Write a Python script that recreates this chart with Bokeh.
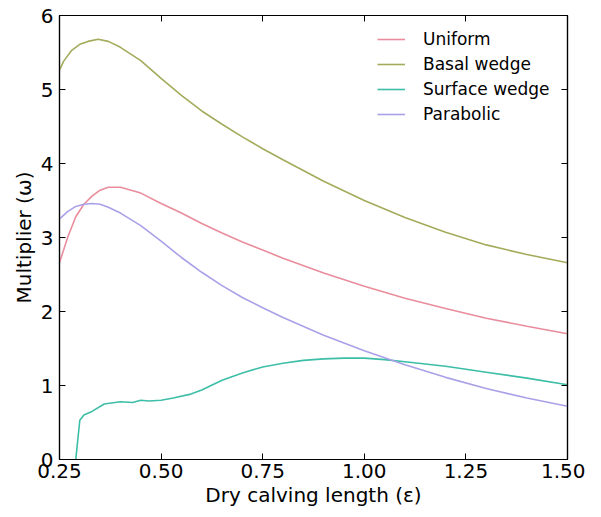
from bokeh.plotting import figure
from bokeh.models import LinearAxis, Range1d, FixedTicker, Legend, LegendItem, CustomJSTickFormatter
from bokeh.embed import file_html
from bokeh.resources import INLINE

# ---- data ----
uniform_x = [0.25, 0.27, 0.29, 0.31, 0.33, 0.35, 0.37, 0.40, 0.45, 0.50, 0.55, 0.60,
             0.65, 0.70, 0.75, 0.80, 0.90, 1.00, 1.10, 1.20, 1.30, 1.40, 1.50]
uniform_y = [2.66, 3.00, 3.28, 3.45, 3.56, 3.64, 3.68, 3.68, 3.60, 3.46, 3.33, 3.19,
             3.06, 2.94, 2.83, 2.72, 2.52, 2.34, 2.18, 2.04, 1.91, 1.80, 1.70]

basal_x = [0.25, 0.26, 0.28, 0.30, 0.32, 0.345, 0.37, 0.40, 0.45, 0.50, 0.55, 0.60,
           0.65, 0.70, 0.75, 0.80, 0.90, 1.00, 1.10, 1.20, 1.30, 1.40, 1.50]
basal_y = [5.26, 5.38, 5.53, 5.61, 5.65, 5.68, 5.65, 5.57, 5.39, 5.15, 4.92, 4.71,
           4.53, 4.36, 4.20, 4.05, 3.76, 3.50, 3.27, 3.07, 2.90, 2.77, 2.66]

surface_x = [0.29, 0.30, 0.31, 0.33, 0.36, 0.40, 0.43, 0.45, 0.47, 0.50, 0.53, 0.57,
             0.60, 0.65, 0.70, 0.75, 0.80, 0.85, 0.90, 0.95, 1.00, 1.05, 1.10, 1.20,
             1.30, 1.40, 1.50]
surface_y = [0.00, 0.53, 0.60, 0.65, 0.75, 0.78, 0.77, 0.80, 0.79, 0.80, 0.83, 0.88,
             0.94, 1.07, 1.17, 1.25, 1.30, 1.34, 1.36, 1.37, 1.37, 1.35, 1.32, 1.26,
             1.18, 1.10, 1.01]

parabolic_x = [0.25, 0.27, 0.29, 0.31, 0.33, 0.35, 0.37, 0.40, 0.45, 0.50, 0.55, 0.60,
               0.65, 0.70, 0.75, 0.80, 0.90, 1.00, 1.10, 1.20, 1.30, 1.40, 1.50]
parabolic_y = [3.25, 3.35, 3.42, 3.45, 3.46, 3.45, 3.41, 3.33, 3.16, 2.95, 2.73, 2.53,
               2.35, 2.19, 2.05, 1.92, 1.68, 1.47, 1.28, 1.11, 0.96, 0.83, 0.72]

series_names = ["Uniform", "Basal wedge", "Surface wedge", "Parabolic"]
series_colors = ["#e98d9d", "#a4ab5b", "#3dbea6", "#a9a1e8"]

x_ticks = [0.25, 0.50, 0.75, 1.00, 1.25, 1.50]
x_tick_labels = ["0.25", "0.50", "0.75", "1.00", "1.25", "1.50"]
y_ticks = [0, 1, 2, 3, 4, 5, 6]

FONT = "DejaVu Sans"

p = figure(width=585, height=509, output_backend="svg", toolbar_location=None,
           x_range=Range1d(0.25, 1.5), y_range=Range1d(0, 6),
           min_border_left=59, min_border_right=18, min_border_top=15,
           min_border_bottom=44, x_axis_label="Dry calving length (ε)",
           y_axis_label="Multiplier (ω)")
p.grid.visible = False
p.outline_line_color = "black"
p.outline_line_width = 1.2
p.background_fill_color = "white"
p.border_fill_color = "white"

def style_axis(ax, labels=True):
    ax.major_tick_in = 6
    ax.major_tick_out = 0
    ax.minor_tick_in = 0
    ax.minor_tick_out = 0
    ax.axis_line_color = "black"
    ax.axis_line_width = 1.2
    ax.major_tick_line_color = "black"
    ax.major_tick_line_width = 1
    if labels:
        ax.major_label_text_font = FONT
        ax.major_label_text_font_size = "20px"
        ax.major_label_text_color = "black"
        ax.axis_label_text_font = FONT
        ax.axis_label_text_font_size = "20px"
        ax.axis_label_text_font_style = "normal"
        ax.axis_label_text_color = "black"
    else:
        ax.formatter = CustomJSTickFormatter(code="return '';")
        ax.major_label_standoff = 0

xax = p.xaxis[0]
yax = p.yaxis[0]
xax.ticker = FixedTicker(ticks=x_ticks)
xax.major_label_overrides = {t: l for t, l in zip(x_ticks, x_tick_labels)}
yax.ticker = FixedTicker(ticks=y_ticks)
style_axis(xax)
style_axis(yax)
xax.major_label_standoff = 4
xax.axis_label_standoff = 2
yax.major_label_standoff = 6
yax.axis_label_standoff = 2

top = LinearAxis(ticker=FixedTicker(ticks=x_ticks))
right = LinearAxis(ticker=FixedTicker(ticks=y_ticks))
style_axis(top, labels=False)
style_axis(right, labels=False)
p.add_layout(top, "above")
p.add_layout(right, "right")

renderers = []
for xs, ys, c in zip([uniform_x, basal_x, surface_x, parabolic_x],
                     [uniform_y, basal_y, surface_y, parabolic_y], series_colors):
    renderers.append(p.line(xs, ys, line_color=c, line_width=1.6))

legend = Legend(items=[LegendItem(label=n, renderers=[r]) for n, r in zip(series_names, renderers)],
                location=(318, 335), padding=0, margin=0, spacing=5,
                glyph_width=28, glyph_height=20, label_height=20, label_standoff=18,
                label_text_font=FONT, label_text_font_size="17px",
                label_text_color="black",
                border_line_alpha=0, background_fill_alpha=0)
p.add_layout(legend, "center")

open("out.html", "w").write(file_html(p, INLINE))
